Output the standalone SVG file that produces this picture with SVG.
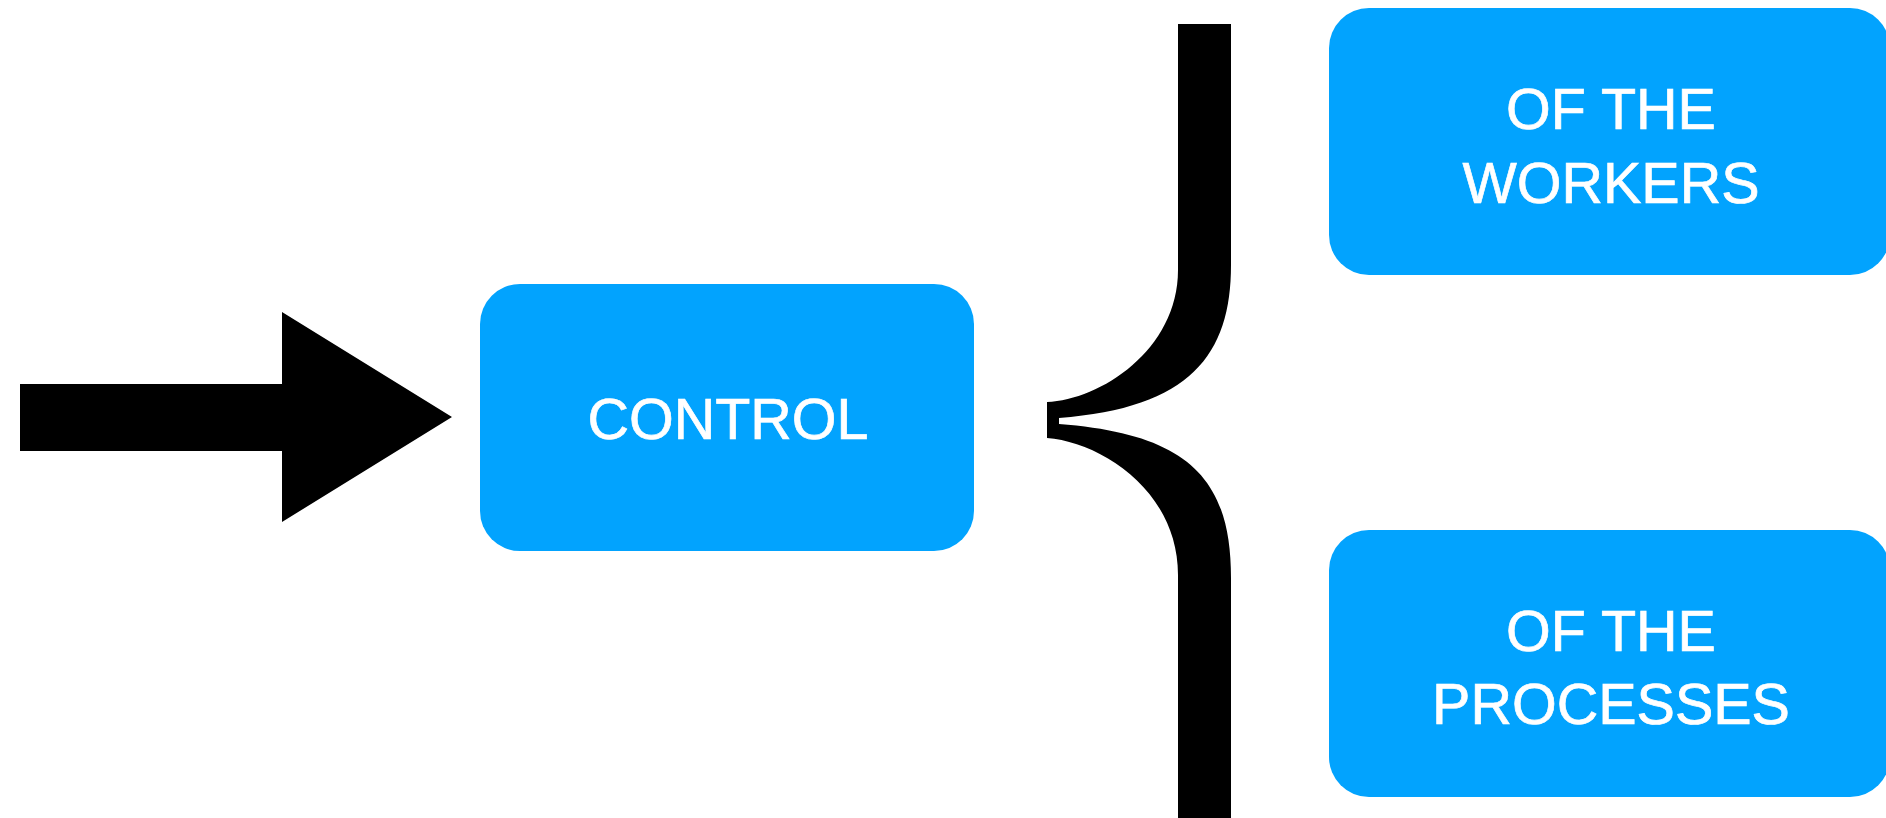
<svg xmlns="http://www.w3.org/2000/svg" width="1886" height="818" viewBox="0 0 1886 818">
<style>
.box{fill:#02A3FE}
.lbl{fill:#ffffff;stroke:#ffffff;stroke-width:0.7;font-family:"Liberation Sans",Arial,sans-serif;font-size:57.5px;text-anchor:middle}
.shape{fill:#000000}
</style>
<rect width="1886" height="818" fill="#ffffff"/>
<g id="connectors">
<path id="arrow" class="shape" d="M20 384 H282 V312 L452 417 L282 522 V451 H20 Z"/>
<path id="brace" class="shape" d="M1178 24 H1231 V265 C1231 355 1190 408 1059 418 V424 C1190 434 1231 480 1231 578 V818 H1178 V575 C1178 490 1100 442 1047 438 V402 C1100 400 1178 350 1178 270 Z"/>
</g>
<g id="control">
<rect class="box" x="480" y="284" width="494" height="267" rx="40"/>
<text class="lbl" x="728" y="439">CONTROL</text>
</g>
<g id="workers">
<rect class="box" x="1329" y="8" width="561" height="267" rx="40"/>
<text class="lbl" x="1611" y="129">OF THE</text>
<text class="lbl" x="1611" y="203">WORKERS</text>
</g>
<g id="processes">
<rect class="box" x="1329" y="530" width="561" height="267" rx="40"/>
<text class="lbl" x="1611" y="651">OF THE</text>
<text class="lbl" x="1611" y="724">PROCESSES</text>
</g>
</svg>
